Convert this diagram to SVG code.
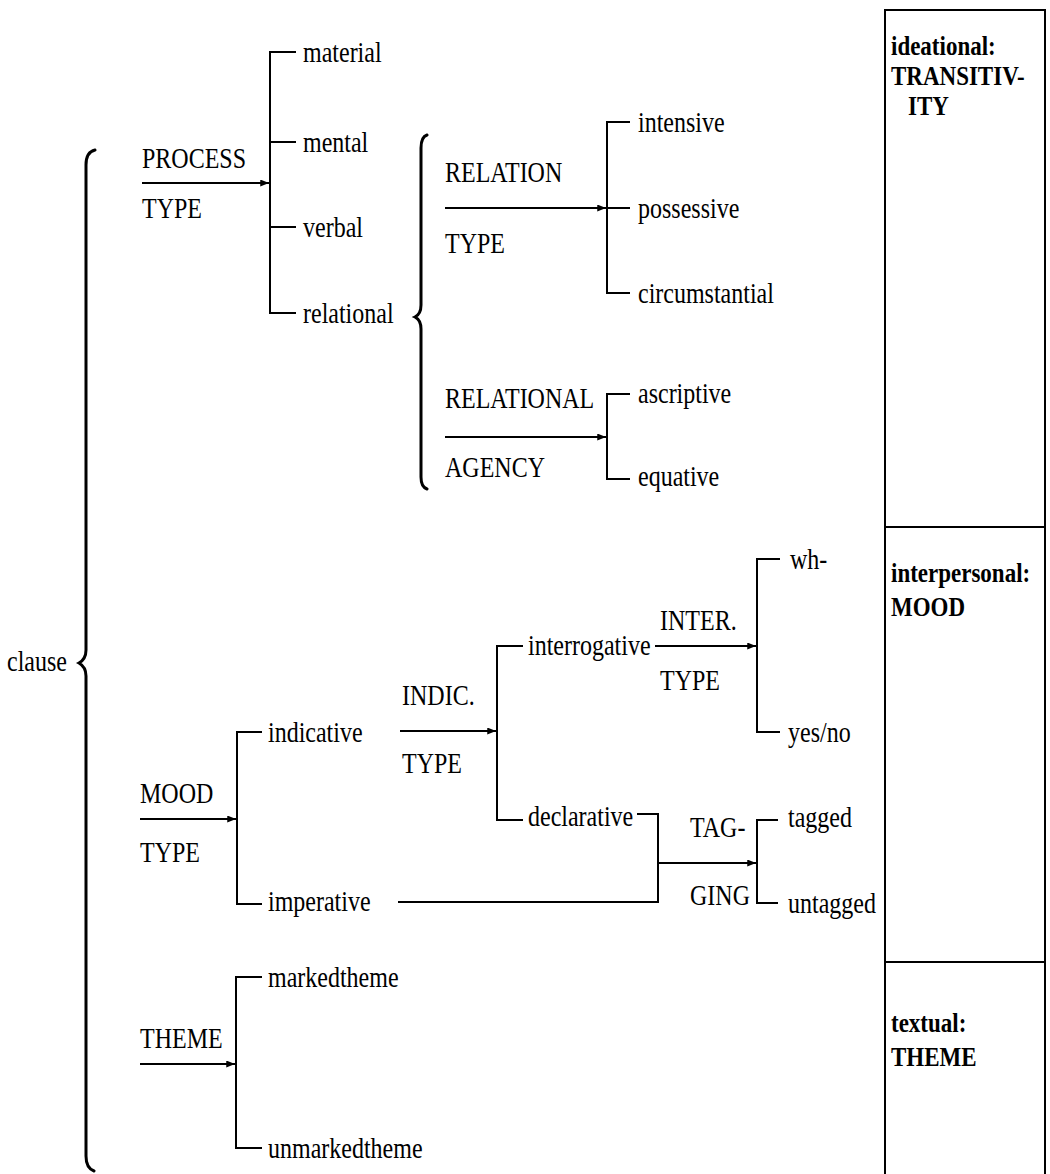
<svg xmlns="http://www.w3.org/2000/svg" width="1050" height="1174" viewBox="0 0 1050 1174">
<defs>
<marker id="arr" viewBox="0 0 10 8" refX="10" refY="4" markerWidth="9" markerHeight="7" markerUnits="userSpaceOnUse" orient="auto">
<path d="M0,0 L10,4 L0,8 z" fill="#000"/>
</marker>
<style>
text{font-family:"Liberation Serif","Times New Roman",serif;font-size:24px;fill:#000}
.ln{fill:none;stroke:#000;stroke-width:2}
.ar{fill:none;stroke:#000;stroke-width:2;marker-end:url(#arr)}
.br{fill:none;stroke:#000;stroke-width:3;stroke-linecap:round}
.box{fill:none;stroke:#000;stroke-width:2}
.bx text{font-weight:bold;font-size:23px}
</style>
</defs>
<rect width="1050" height="1174" fill="#fff"/>

<g id="connectors">
<path class="br" d="M95 150 Q86 152 86 165 L86 650 Q86 659 79 663 Q86 667 86 676 L86 1156 Q86 1168 94 1171"/>
<path class="br" d="M427 135 Q421 137 421 148 L421 305 Q421 314 415 317 Q421 320 421 329 L421 477 Q421 487 427 489"/>
<path class="ar" d="M142 183 H269"/>
<path class="ln" d="M296 52 H270 V313 H296 M270 142 H296 M270 227 H296"/>
<path class="ar" d="M445 208 H606"/>
<path class="ln" d="M630 122 H607 V293 H630 M607 208 H630"/>
<path class="ar" d="M445 437 H606"/>
<path class="ln" d="M630 394 H607 V479 H630"/>
<path class="ar" d="M140 819 H236"/>
<path class="ln" d="M262 732 H237 V904 H262"/>
<path class="ar" d="M400 731 H496"/>
<path class="ln" d="M523 646 H497 V820 H523"/>
<path class="ar" d="M655 646 H756"/>
<path class="ln" d="M780 559 H757 V732 H780"/>
<path class="ln" d="M637 814 H658 V902 H398"/>
<path class="ar" d="M658 863 H756"/>
<path class="ln" d="M778 820 H757 V903 H778"/>
<path class="ar" d="M140 1064 H235"/>
<path class="ln" d="M262 977 H236 V1148 H262"/>
</g>

<g id="box">
<path class="box" d="M885 1174 V10 H1045 V1174 M885 527 H1045 M885 962 H1045"/>
</g>

<g id="n-clause" transform="translate(7,671) scale(1,1.2)"><text>clause</text></g>
<g id="n-process" transform="translate(142,168) scale(1,1.2)"><text>PROCESS</text></g>
<g id="n-process-type" transform="translate(142,218) scale(1,1.2)"><text>TYPE</text></g>
<g id="n-material" transform="translate(303,62) scale(1,1.2)"><text>material</text></g>
<g id="n-mental" transform="translate(303,152) scale(1,1.2)"><text>mental</text></g>
<g id="n-verbal" transform="translate(303,237) scale(1,1.2)"><text>verbal</text></g>
<g id="n-relational" transform="translate(303,323) scale(1,1.2)"><text>relational</text></g>
<g id="n-relation" transform="translate(445,182) scale(1,1.2)"><text>RELATION</text></g>
<g id="n-relation-type" transform="translate(445,253) scale(1,1.2)"><text>TYPE</text></g>
<g id="n-intensive" transform="translate(638,132) scale(1,1.2)"><text>intensive</text></g>
<g id="n-possessive" transform="translate(638,218) scale(1,1.2)"><text>possessive</text></g>
<g id="n-circumstantial" transform="translate(638,303) scale(1,1.2)"><text>circumstantial</text></g>
<g id="n-relational-agency" transform="translate(445,408) scale(1,1.2)"><text>RELATIONAL</text></g>
<g id="n-agency" transform="translate(445,477) scale(1,1.2)"><text>AGENCY</text></g>
<g id="n-ascriptive" transform="translate(638,403) scale(1,1.2)"><text>ascriptive</text></g>
<g id="n-equative" transform="translate(638,486) scale(1,1.2)"><text>equative</text></g>
<g id="n-mood" transform="translate(140,803) scale(1,1.2)"><text>MOOD</text></g>
<g id="n-mood-type" transform="translate(140,862) scale(1,1.2)"><text>TYPE</text></g>
<g id="n-indicative" transform="translate(268,742) scale(1,1.2)"><text>indicative</text></g>
<g id="n-imperative" transform="translate(268,911) scale(1,1.2)"><text>imperative</text></g>
<g id="n-indic" transform="translate(402,705) scale(1,1.2)"><text>INDIC.</text></g>
<g id="n-indic-type" transform="translate(402,773) scale(1,1.2)"><text>TYPE</text></g>
<g id="n-interrogative" transform="translate(528,655) scale(1,1.2)"><text>interrogative</text></g>
<g id="n-declarative" transform="translate(528,826) scale(1,1.2)"><text>declarative</text></g>
<g id="n-inter" transform="translate(660,630) scale(1,1.2)"><text>INTER.</text></g>
<g id="n-inter-type" transform="translate(660,690) scale(1,1.2)"><text>TYPE</text></g>
<g id="n-wh" transform="translate(790,569) scale(1,1.2)"><text>wh-</text></g>
<g id="n-yesno" transform="translate(788,742) scale(1,1.2)"><text>yes/no</text></g>
<g id="n-tag" transform="translate(690,837) scale(1,1.2)"><text>TAG-</text></g>
<g id="n-ging" transform="translate(690,905) scale(1,1.2)"><text>GING</text></g>
<g id="n-tagged" transform="translate(788,827) scale(1,1.2)"><text>tagged</text></g>
<g id="n-untagged" transform="translate(788,913) scale(1,1.2)"><text>untagged</text></g>
<g id="n-theme" transform="translate(140,1048) scale(1,1.2)"><text>THEME</text></g>
<g id="n-markedtheme" transform="translate(268,987) scale(1,1.2)"><text>markedtheme</text></g>
<g id="n-unmarkedtheme" transform="translate(268,1158) scale(1,1.2)"><text>unmarkedtheme</text></g>

<g id="n-ideational" class="bx">
<g transform="translate(891,55) scale(1,1.2)"><text>ideational:</text></g>
<g transform="translate(891,85) scale(1,1.2)"><text>TRANSITIV-</text></g>
<g transform="translate(908,115) scale(1,1.2)"><text>ITY</text></g>
</g>
<g id="n-interpersonal" class="bx">
<g transform="translate(891,582) scale(1,1.2)"><text>interpersonal:</text></g>
<g transform="translate(891,616) scale(1,1.2)"><text>MOOD</text></g>
</g>
<g id="n-textual" class="bx">
<g transform="translate(891,1032) scale(1,1.2)"><text>textual:</text></g>
<g transform="translate(891,1066) scale(1,1.2)"><text>THEME</text></g>
</g>
</svg>
